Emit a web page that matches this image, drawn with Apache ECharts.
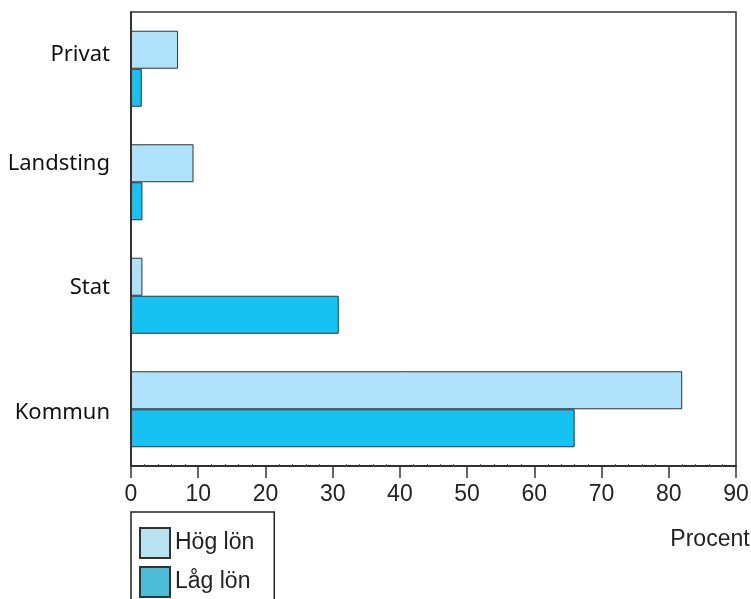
<!DOCTYPE html>
<html>
<head>
<meta charset="utf-8">
<script src="https://cdn.jsdelivr.net/npm/echarts@6/dist/echarts.min.js"></script>
<style>
  html, body { margin: 0; padding: 0; background: #fff; }
  #chart { width: 751px; height: 599px; }
</style>
</head>
<body>
<div id="chart"></div>
<script>
// sectors, top to bottom
const sectors = ['Privat', 'Landsting', 'Stat', 'Kommun'];
const hogLon = [7.0, 9.3, 1.7, 82.0];
const lagLon = [1.6, 1.7, 30.9, 66.0];
const xTicks = [0, 10, 20, 30, 40, 50, 60, 70, 80, 90];

// the printed labels sit a bit off the band centres
const labelShift = { Privat: 'a', Landsting: 'b', Stat: 'c', Kommun: 'd' };

const chart = echarts.init(document.getElementById('chart'));

const catLabel = { fontSize: 22, fontFamily: 'Noto Sans', color: '#111' };

chart.setOption({
    animation: false,
    textStyle: { fontFamily: 'Liberation Sans', color: '#222' },
    grid: {
        left: 131, right: 15, top: 12, bottom: 133,
        outerBoundsMode: 'none',
        containLabel: false,
        show: true, borderColor: '#333', borderWidth: 1.5
    },
    legend: {
        orient: 'vertical',
        left: 131, top: 512,
        height: 140,
        padding: [15, 20, 20, 8],
        itemWidth: 30, itemHeight: 30, itemGap: 7,
        borderColor: '#222', borderWidth: 1.5,
        icon: 'rect',
        itemStyle: { borderColor: '#333', borderWidth: 2 },
        textStyle: { fontSize: 23, color: '#222', fontFamily: 'Liberation Sans' },
        data: [
            { name: 'Hög lön', itemStyle: { color: '#b6e3ef' } },
            { name: 'Låg lön', itemStyle: { color: '#4bbdd8' } }
        ]
    },
    xAxis: {
        type: 'value',
        min: xTicks[0], max: xTicks[xTicks.length - 1], interval: 10,
        name: 'Procent',
        nameLocation: 'end',
        nameGap: -26,
        nameTextStyle: {
            fontSize: 23, color: '#222', align: 'center', verticalAlign: 'top',
            padding: [62, 0, 0, 0]
        },
        axisLine: { show: true, lineStyle: { color: '#222', width: 1.5 } },
        axisTick: { show: true, length: 12, lineStyle: { color: '#333', width: 1.5 } },
        minorTick: { show: true, splitNumber: 5, length: -2, lineStyle: { color: '#555' } },
        splitLine: { show: false },
        axisLabel: { fontSize: 23, color: '#222', margin: 17 }
    },
    yAxis: {
        type: 'category',
        inverse: true,
        data: sectors,
        axisLine: { show: true, lineStyle: { color: '#222', width: 1.5 } },
        axisTick: { show: false },
        axisLabel: {
            margin: 21,
            formatter: v => '{' + labelShift[v] + '|' + v + '}',
            rich: {
                a: Object.assign({ padding: [0, 0, 28, 0] }, catLabel),
                b: Object.assign({ padding: [0, 0, 38, 0] }, catLabel),
                c: Object.assign({ padding: [0, 0, 16, 0] }, catLabel),
                d: Object.assign({ padding: [6, 0, 0, 0] }, catLabel)
            }
        }
    },
    series: [
        {
            name: 'Hög lön',
            type: 'bar',
            data: hogLon,
            barWidth: 38,
            barGap: '0%',
            itemStyle: { color: '#aee1fa', borderColor: '#333', borderWidth: 1 }
        },
        {
            name: 'Låg lön',
            type: 'bar',
            data: lagLon,
            barWidth: 38,
            barGap: '0%',
            itemStyle: { color: '#16c2f2', borderColor: '#333', borderWidth: 1 }
        }
    ]
});
</script>
</body>
</html>
